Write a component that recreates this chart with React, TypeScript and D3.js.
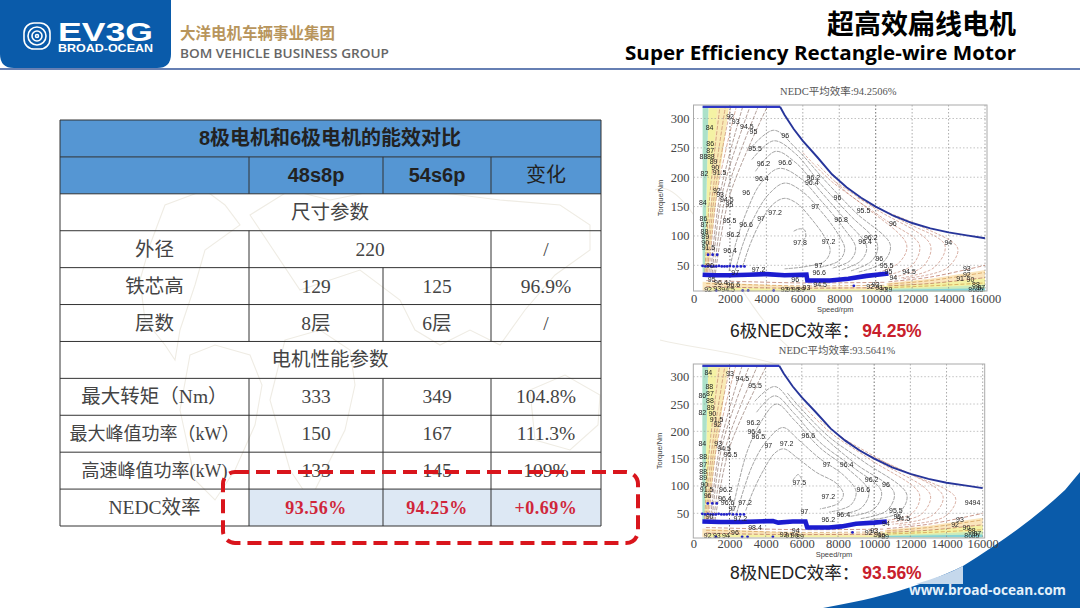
import React, { useEffect, useRef } from "react";
import * as d3 from "d3";

type Pt = [number, number];
type Lbl = [number, number, string];

// ---- table values
const tableTitle = "8极电机和6极电机的能效对比";
const columnHeads = ["", "48s8p", "54s6p", "变化"];
const rowLabels = ["尺寸参数", "外径", "铁芯高", "层数", "电机性能参数", "最大转矩（Nm）", "最大峰值功率（kW）", "高速峰值功率(kW)", "NEDC效率"];
const values48s8p = ["", "220", "129", "8层", "", "333", "150", "133", "93.56%"];
const values54s6p = ["", "", "125", "6层", "", "349", "167", "145", "94.25%"];
const valuesChange = ["", "/", "96.9%", "/", "", "104.8%", "111.3%", "109%", "+0.69%"];
const sectionRows = ["尺寸参数", "电机性能参数"];

// ---- shared by both maps
const speedTicks = [0, 2000, 4000, 6000, 8000, 10000, 12000, 14000, 16000];
const torqueTicks = [50, 100, 150, 200, 250, 300];
const envelope: Pt[] = [[4750, 320], [5000, 306], [5500, 282], [6000, 262], [6800, 234], [7600, 205], [8400, 183], [9200, 165], [10000, 150], [11000, 134], [12000, 122], [13000, 113], [14000, 106], [15000, 101], [16000, 96]];
const flatTop: Pt[] = [[500, 320], [4750, 320]];
const coldBands: { level: number; points: Pt[] }[] = [
  { level: 92, points: [[1250, 320], [1950, 320], [1200, 150], [800, 38], [680, 38]] },
  { level: 90, points: [[820, 320], [1300, 320], [900, 160], [680, 38], [620, 38]] },
  { level: 85, points: [[500, 320], [820, 320], [620, 38], [500, 38]] },
  { level: 93, points: [[10600, 20], [13000, 27], [16000, 42], [16000, 6], [10600, 6]] },
  { level: 90, points: [[10000, 14], [13000, 19], [16000, 28], [16000, 6], [10000, 6]] },
  { level: 87, points: [[10000, 10], [13000, 12], [16000, 17], [16000, 6], [10000, 6]] },
  { level: 83, points: [[10000, 8], [16000, 11], [16000, 6], [10000, 6]] },
  { level: 93, points: [[500, 22], [6000, 14], [10600, 13], [10600, 6], [500, 6]] },
  { level: 90, points: [[800, 12], [6000, 10], [10600, 9], [10600, 6], [800, 6]] },
];
const fanLines: Pt[][] = [
  [[620, 38], [900, 170], [1450, 320]],
  [[700, 38], [1000, 160], [1750, 320]],
  [[780, 38], [1150, 170], [2050, 320]],
  [[860, 38], [1300, 175], [2350, 320]],
  [[950, 38], [1450, 170], [2700, 320]],
  [[1030, 36], [1600, 175], [3100, 320]],
  [[1120, 36], [1780, 170], [3550, 320]],
  [[1200, 36], [2000, 170], [4050, 320]],
];
const lowLines: Pt[][] = [
  [[10700, 22], [13000, 30], [16000, 50]],
  [[10700, 18], [13000, 24], [16000, 38]],
  [[10700, 15], [13000, 19], [16000, 29]],
  [[10700, 12], [13000, 15], [16000, 20]],
  [[700, 24], [3000, 22], [6000, 20], [10500, 21]],
  [[700, 19], [3000, 17], [6000, 15], [10500, 16]],
  [[700, 14], [3000, 12], [6000, 11], [10500, 12]],
];
const upperDots: Pt[] = [[500, 49], [650, 48], [800, 49], [950, 48], [1100, 48], [1250, 48], [1400, 49], [1550, 48], [1700, 48], [1850, 48], [2000, 49], [2200, 48], [2400, 48], [2600, 48], [2800, 48]];
const sparseDots: Pt[] = [[800, 68], [1050, 68], [1300, 68], [1250, 7], [2700, 7], [3000, 7], [4400, 7], [8800, 15]];

// ---- 6 pole map
const operating6: Pt[] = [[500, 34], [1200, 33], [2000, 33], [3000, 34], [4000, 35], [5000, 33], [6200, 34], [6250, 24], [7500, 24], [8500, 27], [9500, 32], [10700, 36]];
const innerContours6: Pt[][] = [
  [[5500, 108], [5800, 112], [6100, 110], [6150, 98], [6000, 92]],
  [[2700, 48], [3100, 85], [3700, 125], [4400, 155], [5000, 164], [5700, 155], [6500, 128], [7200, 98], [7500, 75], [7200, 57], [6200, 48], [5000, 44]],
  [[2300, 42], [2700, 85], [3300, 130], [4100, 170], [5000, 190], [6000, 175], [7000, 142], [7900, 105], [8300, 78], [8000, 58], [7000, 47]],
  [[1950, 40], [2300, 85], [2900, 140], [3700, 190], [4700, 215], [5800, 200], [7000, 160], [8200, 115], [8900, 80], [8600, 58], [7600, 45]],
  [[3400, 210], [4500, 244], [5600, 225], [7000, 175], [8400, 125], [9500, 82], [9200, 58], [8100, 42]],
  [[3200, 230], [4400, 262], [5600, 240], [7000, 188], [8600, 135], [10100, 85], [9800, 58], [8600, 40]],
  [[3000, 245], [4400, 280], [5600, 250], [7200, 195], [8900, 140], [10800, 85], [10400, 55], [9000, 38]],
];
const outerContours6: Pt[][] = [
  [[6000, 242], [7500, 195], [9500, 148], [11700, 85], [11300, 55], [10000, 36]],
  [[6800, 222], [8500, 172], [10500, 128], [12400, 85], [12000, 50], [10600, 33]],
  [[7800, 192], [10000, 146], [13000, 85], [12600, 48], [11000, 30]],
  [[9000, 165], [11500, 125], [13800, 84], [13200, 46], [11300, 28]],
  [[10500, 142], [12500, 116], [14500, 79], [13900, 45], [11500, 27]],
];
const labels6: Lbl[] = [
  [2010, 303, "92"], [2320, 295, "93"], [2930, 286, "94.5"], [3290, 278, "95"], [880, 285, "84"], [5030, 271, "96"], [3380, 249, "95.5"], [3840, 224, "96.2"], [5030, 225, "96.6"], [3750, 197, "96.4"], [6580, 199, "96.2"], [6490, 191, "96.4"],
  [915, 257, "86"], [915, 245, "87"], [550, 235, "88"], [950, 235, "88"], [1100, 227, "89"], [1190, 217, "90"], [600, 207, "82"], [1430, 208, "91.5"], [1280, 177, "92"], [1460, 170, "93"], [1830, 162, "94.5"], [1975, 153, "95"], [510, 157, "84"], [2890, 174, "96"],
  [7900, 166, "96"], [9330, 144, "95.5"], [6680, 150, "97"], [4480, 140, "97.2"], [3710, 130, "97"], [1975, 127, "95.5"], [2890, 120, "96.6"], [10940, 122, "96"], [8100, 128, "96.8"], [550, 130, "86"], [600, 119, "87"], [600, 107, "88"], [640, 99, "89"], [640, 89, "90"], [820, 80, "91.5"],
  [2190, 102, "96.2"], [2010, 76, "96.4"], [5850, 89, "97.8"], [7410, 90, "97.2"], [9730, 98, "96.2"], [9420, 90, "96.4"], [13990, 89, "94"], [10200, 62, "96"], [6860, 49, "97"], [6900, 38, "96.6"], [10600, 50, "95.5"], [10700, 39, "95"], [10970, 29, "94"], [11830, 39, "94.5"],
  [15000, 45, "93"], [15000, 34, "92"], [14630, 28, "91"], [3570, 42, "97.2"], [2290, 38, "97"], [6950, 18, "94.5"], [5580, 25, "96"], [900, 50, "90"], [2190, 18, "96.6"], [1000, 25, "95"], [1500, 20, "96.4"],
  [800, 9, "92"], [1300, 10, "93"], [1900, 9, "94.5"], [5000, 9, "92"], [5300, 8, "91"], [5600, 9, "90"], [5900, 8, "89"], [6200, 12, "93"], [9700, 14, "92"], [10000, 18, "93"], [10200, 12, "91"], [10400, 9, "90"], [10700, 8, "89"], [15200, 25, "90"], [15500, 18, "88"], [15800, 13, "87"], [15300, 9, "86"], [15700, 9, "85"],
];

// ---- 8 pole map
const operating8: Pt[] = [[500, 35], [1500, 34], [2500, 34], [3500, 35], [4400, 36], [4700, 33], [5500, 35], [6200, 35], [6300, 24], [7500, 24], [8200, 26], [9000, 31], [10000, 33], [10700, 35]];
const innerContours8: Pt[][] = [
  [[5500, 110], [5800, 121], [6000, 112]],
  [[2900, 55], [3300, 90], [3900, 130], [4500, 160], [5000, 168], [5800, 150], [6800, 125], [7900, 105], [8300, 85], [8000, 68], [7000, 58]],
  [[2400, 50], [2800, 95], [3300, 140], [4000, 180], [4950, 207], [5800, 185], [7000, 150], [8300, 120], [9000, 90], [8700, 65], [7500, 52]],
  [[2100, 45], [2500, 105], [3000, 165], [3700, 215], [4600, 250], [5600, 220], [7000, 170], [8600, 130], [9700, 90], [9300, 60], [8000, 47]],
  [[3500, 235], [4500, 265], [5600, 232], [7000, 180], [8800, 135], [10400, 90], [10000, 58], [8600, 44]],
  [[3400, 255], [4500, 282], [5600, 245], [7200, 190], [9000, 140], [11100, 88], [10700, 55], [9200, 40]],
  [[5200, 270], [6000, 240], [7500, 190], [9400, 145], [11800, 85], [11400, 52], [9800, 38]],
];
const outerContours8: Pt[][] = [
  [[6000, 250], [7500, 200], [9800, 148], [12500, 85], [12100, 50], [10400, 36]],
  [[7000, 220], [8800, 175], [10500, 140], [13100, 84], [12600, 48], [10700, 33]],
  [[8000, 192], [10500, 145], [13800, 82], [13200, 46], [11000, 30]],
  [[9800, 155], [12000, 122], [14500, 78], [13900, 44], [11300, 28]],
];
const labels8: Lbl[] = [
  [830, 307, "84"], [2030, 306, "93"], [2710, 296, "94.5"], [3410, 283, "95.5"], [885, 282, "88"], [920, 270, "87"], [500, 265, "86"], [920, 256, "88"], [960, 244, "89"], [500, 234, "82"], [1050, 232, "90"], [1290, 221, "91.5"], [1330, 212, "92"],
  [3320, 216, "96.2"], [3370, 199, "96.4"], [3600, 190, "96.5"], [6360, 192, "96.6"], [500, 178, "84"], [1380, 178, "93"], [1700, 169, "94.5"], [2060, 158, "95.5"], [4150, 175, "97"], [5160, 178, "97.2"],
  [550, 154, "88"], [550, 140, "87"], [550, 126, "88"], [550, 115, "89"], [610, 102, "90"], [740, 93, "91.5"], [790, 82, "96"], [1800, 93, "96.2"], [1750, 77, "96.4"], [1900, 70, "96.6"], [2860, 70, "97.2"], [2160, 59, "97"],
  [7370, 140, "97"], [8480, 140, "96.4"], [9860, 112, "96.2"], [10650, 103, "96"], [9400, 94, "96.6"], [5860, 106, "97.5"], [7460, 80, "97.2"], [15440, 70, "9494"], [11200, 56, "95.5"], [11280, 45, "95"], [11610, 40, "94.5"], [8290, 48, "96.4"], [7460, 39, "96.2"], [6140, 54, "97"], [10650, 32, "94"], [5660, 18, "94"],
  [14740, 38, "93"], [14470, 29, "92"], [3410, 24, "98.4"], [2600, 40, "97.2"], [900, 45, "90"], [2300, 14, "96"], [800, 9, "92"], [1300, 9, "93"], [1800, 9, "94"], [5000, 11, "92"], [5300, 9, "91"], [5600, 10, "90"], [5900, 8, "89"],
  [9700, 15, "92"], [10000, 18, "93"], [10200, 12, "91"], [10400, 10, "90"], [10600, 8, "89"], [15100, 24, "90"], [15400, 18, "88"], [15700, 13, "87"], [15200, 9, "86"], [15600, 9, "85"],
];

const SANS = "'Liberation Sans','Noto Sans CJK SC',sans-serif";
const SERIF = "'Liberation Serif','Noto Sans CJK SC',serif";
const COLUMN_X = [60, 249, 383, 491, 601];

const bandColor = d3.scaleLinear<string>().domain([83, 86, 90, 93]).range(["#86d3d6", "#bfe8c2", "#f4f2a4", "#fbe6bd"]);

type MapProps = {
  x0: number; x1: number; y0: number; y1: number; axisBottom: number; axisTop: number; tickPad: number; speedY: number;
  title: string; caption: string; result: string; captionY: number;
  operating: Pt[]; inner: Pt[][]; outer: Pt[][]; labels: Lbl[];
};

const EfficiencyMap = ({ x0, x1, y0, y1, axisBottom, axisTop, tickPad, speedY, title, caption, result, captionY, operating, inner, outer, labels }: MapProps) => {
  const axesRef = useRef<SVGGElement>(null);
  const xScale = d3.scaleLinear().domain([0, 16000]).range([x0, x1]);
  const yScale = d3.scaleLinear().domain([50, 300]).range([y0, y1]);
  const right = xScale(16000) + 2;
  const curve = d3.line<Pt>().x((d) => xScale(d[0])).y((d) => yScale(d[1])).curve(d3.curveCatmullRom.alpha(0.5));
  const straight = d3.line<Pt>().x((d) => xScale(d[0])).y((d) => yScale(d[1]));

  useEffect(() => {
    const g = d3.select(axesRef.current);
    g.selectAll("*").remove();
    const bottom = g.append("g").attr("transform", `translate(0,${axisBottom})`)
      .call(d3.axisBottom(xScale).tickValues(speedTicks).tickFormat(d3.format("d")).tickSize(0).tickPadding(tickPad));
    const leftAxis = g.append("g").attr("transform", `translate(${x0},0)`)
      .call(d3.axisLeft(yScale).tickValues(torqueTicks).tickSize(0).tickPadding(4));
    [bottom, leftAxis].forEach((a) => {
      a.select(".domain").remove();
      a.selectAll("text").attr("font-family", SERIF).attr("font-size", 12.5).attr("fill", "#444");
    });
  }, []);

  return (
    <g>
      <text x={(x0 + x1) / 2 - 1} y={axisTop - 10} textAnchor="middle" fontFamily={SERIF} fontSize={10.5} fill="#555">{title}</text>
      <rect x={x0} y={axisTop} width={right - x0} height={axisBottom - axisTop} fill="#fff" />
      <g filter="url(#soft)">
        {coldBands.map((b, i) => (
          <path key={i} d={straight(b.points) + "Z"} fill={bandColor(b.level)} />
        ))}
        {speedTicks.slice(1).map((s) => (
          <line key={s} x1={xScale(s)} x2={xScale(s)} y1={axisTop} y2={axisBottom} stroke={s === 2000 || s === 10000 ? "#333" : "#888"} strokeWidth={0.7} strokeDasharray="1.5,2" />
        ))}
        {torqueTicks.map((t) => (
          <line key={t} x1={x0} x2={right} y1={yScale(t)} y2={yScale(t)} stroke="#999" strokeWidth={0.6} strokeDasharray="1.5,2" />
        ))}
        {fanLines.map((l, i) => (
          <path key={i} d={curve(l) ?? ""} fill="none" stroke={i < 4 ? "#c07a60" : "#806055"} strokeWidth={0.6} strokeDasharray="4,1.5" />
        ))}
        {lowLines.map((l, i) => (
          <path key={i} d={curve(l) ?? ""} fill="none" stroke={i % 2 ? "#c9893a" : "#a8553f"} strokeWidth={0.6} strokeDasharray="4,2" />
        ))}
        {outer.map((l, i) => (
          <path key={i} d={curve(l) ?? ""} fill="none" stroke="#c07a66" strokeWidth={0.6} strokeDasharray="3,1.5" />
        ))}
        {inner.map((l, i) => (
          <path key={i} d={curve(l) ?? ""} fill="none" stroke="#666" strokeWidth={0.6} strokeDasharray="4,1" />
        ))}
        <path d={straight(flatTop) ?? ""} fill="none" stroke="#2f38c4" strokeWidth={2.6} />
        <path d={straight(envelope) ?? ""} fill="none" stroke="#28359a" strokeWidth={1.9} />
        <path d={straight(operating) ?? ""} fill="none" stroke="#1c1ccf" strokeWidth={4.6} />
        {upperDots.concat(sparseDots).map((d, i) => (
          <circle key={i} cx={xScale(d[0])} cy={yScale(d[1])} r={1.4} fill="#2222c8" />
        ))}
        {labels.map((l, i) => (
          <text key={i} x={xScale(l[0])} y={yScale(l[1])} textAnchor="middle" dominantBaseline="central" fontFamily={SANS} fontSize={7} fill="#222">{l[2]}</text>
        ))}
      </g>
      <rect x={x0} y={axisTop} width={right - x0} height={axisBottom - axisTop} fill="none" stroke="#aaa" strokeWidth={1} />
      <g ref={axesRef} />
      <text x={(x0 + x1) / 2 - 4} y={speedY} textAnchor="middle" fontFamily={SANS} fontSize={7.5} fill="#444">Speed/rpm</text>
      <text transform={`translate(${x0 - 31},${(axisTop + axisBottom) / 2}) rotate(-90)`} textAnchor="middle" fontFamily={SANS} fontSize={7.5} fill="#444">Torque/Nm</text>
      <text x={730} y={captionY} fontFamily={SANS} fontSize={17.5} fill="#222">{caption}
        <tspan fontWeight="bold" fill="#c8202c" dx={3}>{result}</tspan>
      </text>
    </g>
  );
};

const App = () => {
  const rowScale = d3.scaleBand().domain(["title", "heads", ...rowLabels]).range([120, 526]);
  const rowH = rowScale.bandwidth();
  const mid = (a: number, b: number) => (COLUMN_X[a] + COLUMN_X[b]) / 2;

  return (
    <svg width={1080} height={608} viewBox="0 0 1080 608" style={{ position: "absolute", left: 0, top: 0, background: "#fff" }}>
      <defs>
        <filter id="soft" x="-5%" y="-5%" width="110%" height="110%"><feGaussianBlur stdDeviation="0.3" /></filter>
      </defs>

      {/* faint world map behind the table */}
      <g fill="none" stroke="#efece4" strokeWidth={1.1}>
        <path d="M150 245 L165 205 L205 190 L225 205 L240 225 L205 250 L195 285 L180 330 L175 360 L165 345 L145 320 L140 280Z" />
        <path d="M190 355 L215 345 L250 355 L262 385 L255 425 L235 470 L215 500 L195 480 L180 410Z" />
        <path d="M250 215 L290 190 L330 200 L370 192 L420 190 L500 200 L560 205 L590 225 L590 250 L555 275 L525 310 L500 345 L470 330 L440 345 L415 330 L400 300 L360 270 L300 290Z" />
        <path d="M285 340 L320 330 L350 350 L355 385 L345 430 L325 470 L310 500 L290 470 L270 400Z" />
        <path d="M530 390 L565 375 L600 395 L598 425 L570 450 L535 440Z" />
        <path d="M655 190 C690 170 740 320 800 355 M660 340 C700 350 740 350 830 380" />
      </g>

      {/* header */}
      <path d="M0 0H171V54Q171 68 157 68H14Q0 68 0 54Z" fill="#0a5baa" />
      <g fill="none" stroke="#fff" strokeWidth={1.6}>
        <rect x={24} y={23} width={26} height={26} rx={10} />
        <circle cx={37} cy={36} r={9} />
        <circle cx={37} cy={36} r={5} />
        <circle cx={37} cy={36} r={1.5} />
      </g>
      <text x={58} y={41} fontFamily={SANS} fontWeight="bold" fontSize={25} fill="#fff" textLength={95} lengthAdjust="spacingAndGlyphs">EV3G</text>
      <text x={58} y={52} fontFamily={SANS} fontWeight="bold" fontSize={11} fill="#fff" textLength={95} lengthAdjust="spacingAndGlyphs">BROAD-OCEAN</text>
      <text x={180} y={39} fontFamily={SANS} fontWeight="bold" fontSize={15.5} fill="#b8955c">大洋电机车辆事业集团</text>
      <text x={180} y={58} fontFamily="'Open Sans',sans-serif" fontWeight="600" fontSize={13} fill="#666" textLength={209} lengthAdjust="spacingAndGlyphs">BOM VEHICLE BUSINESS GROUP</text>
      <line x1={0} x2={1080} y1={69} y2={69} stroke="#33559a" strokeWidth={1.6} />
      <text x={1016} y={34} textAnchor="end" fontFamily={SANS} fontWeight="bold" fontSize={27} fill="#000">超高效扁线电机</text>
      <text x={1016} y={60} textAnchor="end" fontFamily="'Open Sans',sans-serif" fontWeight="bold" fontSize={20} fill="#000" textLength={391} lengthAdjust="spacingAndGlyphs">Super Efficiency Rectangle-wire Motor</text>

      {/* table */}
      <rect x={COLUMN_X[0]} y={rowScale("title")} width={541} height={rowH * 2} fill="#5596d3" />
      <rect x={COLUMN_X[1]} y={rowScale("NEDC效率")} width={352} height={rowH} fill="#dde8f4" />
      <g stroke="#333" strokeWidth={1}>
        {rowScale.domain().map((r) => (
          <line key={r} x1={60} x2={601} y1={rowScale(r)! + rowH} y2={rowScale(r)! + rowH} />
        ))}
        <line x1={60} x2={601} y1={120} y2={120} />
        <line x1={60} x2={60} y1={120} y2={526} />
        <line x1={601} x2={601} y1={120} y2={526} />
        {rowScale.domain().slice(1).map((r) => {
          const y = rowScale(r)!;
          if (sectionRows.includes(r)) return null;
          return (
            <g key={r}>
              <line x1={COLUMN_X[1]} x2={COLUMN_X[1]} y1={y} y2={y + rowH} />
              {r !== "外径" && <line x1={COLUMN_X[2]} x2={COLUMN_X[2]} y1={y} y2={y + rowH} />}
              <line x1={COLUMN_X[3]} x2={COLUMN_X[3]} y1={y} y2={y + rowH} />
            </g>
          );
        })}
      </g>
      <text x={330} y={rowScale("title")! + rowH / 2} textAnchor="middle" dominantBaseline="central" fontFamily={SANS} fontWeight="bold" fontSize={20} fill="#222">{tableTitle}</text>
      {columnHeads.map((h, i) => (
        <text key={i} x={mid(i, i + 1)} y={rowScale("heads")! + rowH / 2} textAnchor="middle" dominantBaseline="central" fontFamily={SANS} fontWeight={i < 3 ? "bold" : "normal"} fontSize={20} fill="#222">{h}</text>
      ))}
      {rowLabels.map((label, i) => {
        const y = rowScale(label)! + rowH / 2;
        const isSection = sectionRows.includes(label);
        const isResult = label === "NEDC效率";
        const cell = (txt: string, x: number) => (
          <text x={x} y={y} textAnchor="middle" dominantBaseline="central" fontFamily={SERIF} fontSize={isResult ? 18 : 19.5} fontWeight={isResult ? "bold" : "normal"} letterSpacing={isResult ? 0.5 : 0} fill={isResult ? "#d0263a" : "#444"}>{txt}</text>
        );
        return (
          <g key={label}>
            <text x={isSection ? 330 : mid(0, 1)} y={y} textAnchor="middle" dominantBaseline="central" fontFamily={SERIF} fontSize={label.length > 9 ? 18 : 19.5} fill="#444">{label}</text>
            {label === "外径" ? cell(values48s8p[i], mid(1, 3)) : cell(values48s8p[i], mid(1, 2))}
            {cell(values54s6p[i], mid(2, 3))}
            {cell(valuesChange[i], mid(3, 4))}
          </g>
        );
      })}
      <rect x={223} y={472} width={415} height={71} rx={12} fill="none" stroke="#d9151c" strokeWidth={4} strokeDasharray="14,7" />

      <EfficiencyMap x0={693.5} x1={985} y0={265.3} y1={118.5} axisTop={105} axisBottom={291} tickPad={3} speedY={312} title="NEDC平均效率:94.2506%" caption="6极NEDC效率：" result="94.25%" captionY={337} operating={operating6} inner={innerContours6} outer={outerContours6} labels={labels6} />

      {/* footer shape sits under the lower caption */}
      <path d="M823 608C880 598 925 585 963 566C1000 543 1033 520 1065 490L1080 472V608Z" fill="#0a5baa" />
      <path d="M963 566V584L916 584C935 578 950 573 963 566Z" fill="#c5d8ec" />
      <text x={909} y={595} fontFamily="'Open Sans',sans-serif" fontWeight="bold" fontSize={13.5} fill="#e4f1fa" textLength={157} lengthAdjust="spacingAndGlyphs">www.broad-ocean.com</text>

      <EfficiencyMap x0={693.3} x1={982.7} y0={513.3} y1={376.7} axisTop={364} axisBottom={538} tickPad={1} speedY={557} title="NEDC平均效率:93.5641%" caption="8极NEDC效率：" result="93.56%" captionY={579} operating={operating8} inner={innerContours8} outer={outerContours8} labels={labels8} />
    </svg>
  );
};

export default App;
